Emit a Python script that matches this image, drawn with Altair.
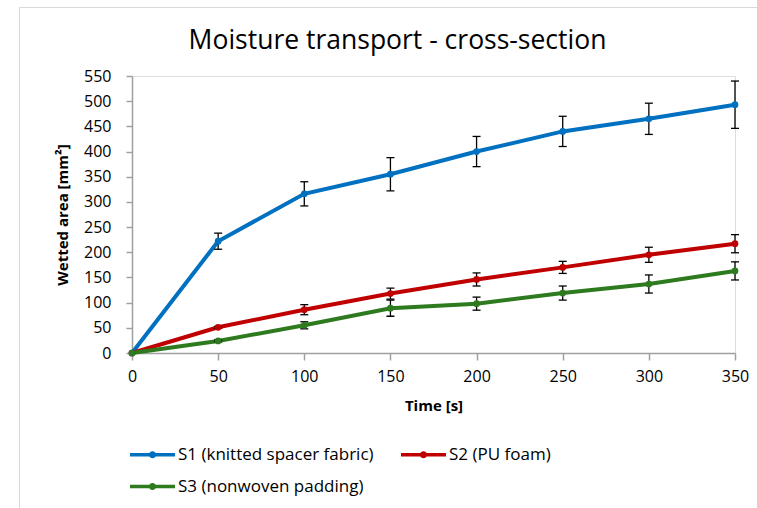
import altair as alt
import pandas as pd

# ---- data ----
time_s = [0, 50, 100, 150, 200, 250, 300, 350]
series_names = ["S1 (knitted spacer fabric)", "S2 (PU foam)", "S3 (nonwoven padding)"]
s1_area = [0, 222, 316, 355, 400, 440, 465, 493]
s1_err = [0, 16, 24, 33, 30, 30, 31, 47]
s2_area = [0, 51, 86, 118, 146, 170, 195, 217]
s2_err = [0, 2, 10, 11, 13, 12, 15, 18]
s3_area = [0, 24, 55, 89, 98, 119, 137, 163]
s3_err = [0, 2, 7, 16, 13, 14, 18, 18]
y_ticks = [0, 50, 100, 150, 200, 250, 300, 350, 400, 450, 500, 550]
colors = ["#0070C0", "#C00000", "#2E7A1F"]

rows = []
for name, vals, errs in zip(series_names, [s1_area, s2_area, s3_area], [s1_err, s2_err, s3_err]):
    for t, v, e in zip(time_s, vals, errs):
        rows.append({"time": t, "series": name, "area": v, "lo": v - e, "hi": v + e, "err": e})
df = pd.DataFrame(rows)

FONT = "Open Sans"

x_axis = alt.Axis(
    values=time_s, title="Time [s]", grid=False,
    domainColor="#a0a0a0", domainWidth=1.5, tickColor="#a0a0a0", tickWidth=1.5, tickSize=7,
    labelFont=FONT, labelFontSize=16, labelColor="black", labelPadding=8,
    labelFlush=False, labelOverlap=False,
    titleFont=FONT, titleFontSize=15, titleFontWeight="bold", titleColor="black",
    titleY=52, titleBaseline="middle",
)
y_axis = alt.Axis(
    values=y_ticks, title="Wetted area [mm²]", grid=False,
    domainColor="#a0a0a0", domainWidth=1.5, tickColor="#a0a0a0", tickWidth=1.5, tickSize=6,
    labelFont=FONT, labelFontSize=16, labelColor="black", labelPadding=15,
    labelFlush=False, labelOverlap=False,
    titleFont=FONT, titleFontSize=15, titleFontWeight="bold", titleColor="black",
    titleX=-70, titleBaseline="middle",
)
x_scale = alt.Scale(domain=[0, 350], nice=False)
y_scale = alt.Scale(domain=[0, 550], nice=False)
color_scale = alt.Scale(domain=series_names, range=colors)

x_enc = alt.X("time:Q", scale=x_scale, axis=x_axis)


def y_of(field):
    return alt.Y(field + ":Q", scale=y_scale, axis=y_axis)


legend_symbol = (
    "M-1,-0.08L1,-0.08L1,0.08L-1,0.08Z"
    "M0.16,0A0.16,0.16,0,1,1,-0.16,0A0.16,0.16,0,1,1,0.16,0Z"
)
legend = alt.Legend(
    orient="none", legendX=-2, legendY=356, direction="horizontal", columns=2,
    title=None, symbolType=legend_symbol, symbolSize=2025, symbolStrokeWidth=0,
    symbolOpacity=1, labelFont=FONT, labelFontSize=17, labelColor="black",
    labelLimit=400, columnPadding=27, rowPadding=1, labelOffset=3, padding=0,
)
color_enc = alt.Color("series:N", scale=color_scale, legend=legend)

frame = alt.Chart(pd.DataFrame({"k": [0]})).mark_rect(
    fillOpacity=0, stroke="#d9d9d9", strokeWidth=1
).encode(
    x=alt.value(-112.5), y=alt.value(-68.5), x2=alt.value(900), y2=alt.value(800)
)

base = alt.Chart(df)

err_data = base.transform_filter("datum.err > 0")
err_rule = err_data.mark_rule(color="black", strokeWidth=1.3).encode(
    x=x_enc, y=y_of("lo"), y2="hi:Q"
)
err_lo = err_data.mark_tick(orient="horizontal", size=8, thickness=1.3, color="black", opacity=1).encode(
    x=x_enc, y=y_of("lo")
)
err_hi = err_data.mark_tick(orient="horizontal", size=8, thickness=1.3, color="black", opacity=1).encode(
    x=x_enc, y=y_of("hi")
)

lines = base.mark_line(strokeWidth=4).encode(
    x=x_enc, y=y_of("area"), color=color_enc, detail="series:N",
)
points = base.mark_point(filled=True, size=45, opacity=1).encode(
    x=x_enc, y=y_of("area"), color=color_enc,
)

chart = alt.layer(frame, lines, err_rule, err_lo, err_hi, points).properties(
    width=603, height=277,
    title=alt.Title(
        "Moisture transport - cross-section", font=FONT, fontSize=26.5, fontWeight="normal",
        color="black", anchor="middle", dx=-36, dy=51,
    ),
    autosize=alt.AutoSizeParams(type="none"),
    padding={"left": 132, "top": 76, "right": 22, "bottom": 155},
).configure_view(stroke=None).configure(background="white")

chart.save("out.html", embed_options={"renderer": "svg", "actions": False})
